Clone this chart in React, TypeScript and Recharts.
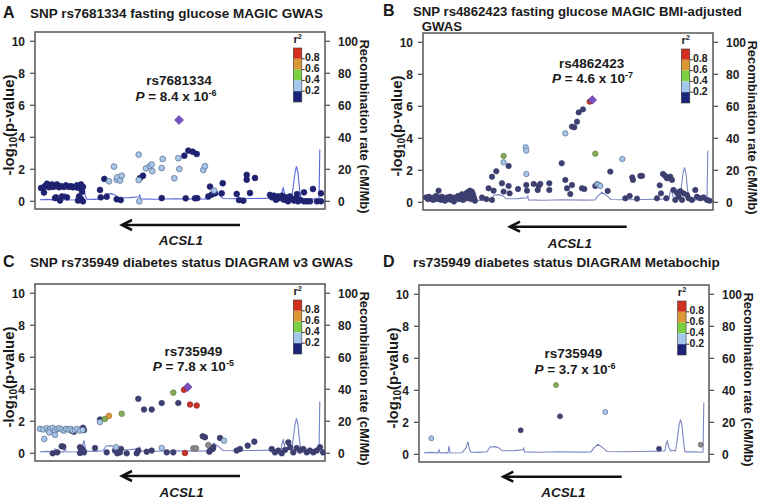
import React from 'react';
import { ComposedChart, Scatter, Line, XAxis, YAxis, ReferenceArea } from 'recharts';

const FONT = "'Liberation Sans', Arial, Helvetica, sans-serif";
const Y_MIN = -0.48;
const Y_MAX = 10.58;
const X_MAX = 290;
const leftTicks = [0, 2, 4, 6, 8, 10];
const rightTicks = [0, 20, 40, 60, 80, 100];
const r2LegendColors = ['#d22f1f', '#dc9834', '#7bd041', '#a4c8ec', '#1c2479'];
const r2LegendLabels = ['0.8', '0.6', '0.4', '0.2'];
const geneName = 'ACSL1';
const leftTitle = ['-log', '10', '(p-value)'];
const rightTitle = 'Recombination rate (cM/Mb)';

// class: 0 r2<0.2, 1 0.2-0.4, 2 0.4-0.6, 3 0.6-0.8, 4 >0.8, 5 no LD info, 9 index SNP
type Pt = [number, number, number];

// recombination rate (position, cM/Mb)
const recombination: [number, number][] = [
  [5, 1.0], [12, 1.2], [19, 0.9], [20, 2.7], [21, 0.9], [29, 0.9], [30, 5.2], [31, 0.8], [43, 1.0], [47, 4.0],
  [49, 7.9], [50.5, 3.0], [52, 1.3], [60, 1.2], [68, 1.6], [71, 4.6], [76, 4.8], [80, 4.0], [83, 2.2], [95, 2.3],
  [104, 2.8], [104.8, 3.8], [105.5, 1.5], [120, 1.3], [140, 1.6], [160, 1.4], [172, 1.5], [175, 4.0], [179, 6.3],
  [184, 4.0], [188, 1.8], [200, 1.6], [220, 1.8], [240, 2.0], [246, 2.2], [247, 6.0], [248.2, 8.3], [250, 4.0],
  [252, 2.0], [254, 2.5], [256.5, 2.0], [258, 8.0], [260, 18.0], [261.5, 21.9], [263, 18.0], [264.5, 8.0],
  [266, 1.5], [275, 1.5], [284, 1.3], [284.8, 32.3],
];

const snpsA: Pt[] = [
  [6, 0.83, 0], [8, 0.85, 0], [9, 0.55, 0], [10, 0.95, 0], [12, 1.1, 0], [14, 0.88, 0], [15, 1.0, 0], [17, 1.05, 0],
  [18, 0.9, 0], [20, 0.95, 0], [20, 0.2, 0], [21, 0.25, 0], [22, 1.05, 0], [24, 0.88, 0], [25, 0.05, 0], [26, 0.95, 0],
  [27, 0.3, 0], [29, 0.9, 0], [31, 1.0, 0], [32, 0.25, 0], [34, 0.9, 0], [36, 0.95, 0], [38, 0.88, 0], [40, 0.9, 0],
  [42, 1.0, 0], [43, 0.85, 0], [43, 0.05, 0], [44, 0.3, 0], [45, 0.95, 0], [46, 1.05, 0], [46, 0.15, 0], [47, 0.6, 0],
  [48, 0.0, 0], [48, 0.9, 0],
  [65, 0.71, 0], [65.7, 0.25, 0], [69.3, 1.4, 0], [71.7, 0.29, 0], [81.7, 0.13, 0], [85.7, 0.08, 0], [105, 1.45, 0],
  [108, 1.6, 0], [126.7, 0.2, 0], [149.3, 2.85, 0], [153.3, 3.17, 0], [157.7, 3.1, 0], [161.7, 2.96, 0], [150.7, 0.19, 0],
  [160, 0.19, 0], [162.3, 0.2, 0], [173.3, 0.3, 0], [175, 0.92, 0], [176.7, 0.42, 0], [180, 0.5, 0], [187.7, 1.13, 0],
  [186.7, 0.5, 0], [201.7, 0.46, 0], [204, 0.08, 0], [208.3, 0.04, 0], [211.7, 1.65, 0], [211.7, 1.35, 0], [220, 1.46, 0],
  [215, 0.52, 0],
  [235, 0.4, 0], [237, 0.25, 0], [239, 0.35, 0], [241, 0.1, 0], [243, 0.3, 0], [245, 0.2, 0], [247, 0.35, 0], [249, 0.1, 0],
  [251, 0.25, 0], [253, 0.0, 0], [255, 0.3, 0], [257, 0.15, 0], [259, 0.05, 0], [261, 0.2, 0], [262, 0.45, 0], [263, 0.0, 0],
  [265, 0.1, 0], [269, 0.56, 0], [269, 0.0, 0], [272, 0.0, 0], [275, 0.0, 0], [278, 0.77, 0], [282, 0.0, 0], [286, 0.5, 0],
  [286, 0.0, 0],
  [74, 1.25, 1], [79, 2.17, 1], [81.7, 1.35, 1], [82.3, 1.5, 1], [85, 1.3, 1], [86.7, 1.6, 1], [103.7, 2.92, 1],
  [103.7, 1.33, 1], [104.3, 0, 1], [111, 2.06, 1], [115, 2.2, 1], [116.7, 2.3, 1], [117.3, 1.88, 1], [126.7, 2.08, 1],
  [127.7, 2.65, 1], [139.3, 1.44, 1], [143.3, 2.69, 1], [144.3, 2.02, 1], [168.3, 1.96, 1], [170, 2.19, 1], [179, 0.67, 1],
  [144, 5.08, 9],
];

const snpsB: Pt[] = [
  [3, 0.3, 0], [5, 0.2, 0], [6, 0.35, 0], [8, 0.25, 0], [10, 0.15, 0], [11, 0.3, 0], [13, 0.4, 0], [14, 0.2, 0],
  [15.6, 0.73, 0], [16, 0.3, 0], [18, 0.15, 0], [19, 0.35, 0], [21, 0.25, 0], [22, 0.1, 0], [24, 0.3, 0], [25, 0.2, 0],
  [27, 0.35, 0], [28, 0.15, 0], [30, 0.25, 0], [31, 0.05, 0], [33, 0.3, 0], [35, 0.4, 0], [36, 0.2, 0], [38, 0.3, 0],
  [39, 0.5, 0], [40, 0.15, 0], [42, 0.35, 0], [43, 0.55, 0], [44, 0.25, 0], [45, 0.65, 0], [46, 0.4, 0], [47, 0.73, 0],
  [48, 0.2, 0], [49, 0.67, 0], [50, 0.5, 0], [51, 0.3, 0], [52, 0.1, 0], [59, 0.3, 0], [63.5, 0.2, 0], [69, 0.15, 0],
  [85.6, 2.27, 0], [73.3, 1.94, 0], [69, 1.6, 0], [79, 1.19, 0], [65.6, 0.875, 0], [70.6, 0.73, 0], [80.6, 0.67, 0],
  [85.6, 1.02, 0], [86.6, 0.56, 0], [95, 0.83, 0], [103.3, 1.08, 0], [104, 0.73, 0], [110.7, 1.15, 0], [115.7, 1.02, 0],
  [117.3, 1.15, 0], [126.3, 1.19, 0], [126.3, 0.77, 0], [114.7, 0.77, 0], [138.7, 2.44, 0], [142.3, 1.4, 0], [144, 0.875, 0],
  [149, 1.08, 0], [147.3, 0.52, 0], [159, 0.875, 0], [161.3, 0.83, 0], [172.3, 1.02, 0], [184.7, 0.71, 0], [187.3, 1.92, 0],
  [202.3, 0.25, 0], [206.7, 0.4, 0], [214, 0.23, 0], [209.3, 1.56, 0], [210, 1.4, 0], [217.3, 1.65, 0], [219, 1.65, 0],
  [236.7, 1.06, 0], [240, 1.77, 0], [242.3, 1.65, 0], [244, 1.5, 0], [247.3, 1.6, 0], [249, 1.4, 0], [238, 0.56, 0],
  [234, 0.25, 0], [243.3, 0.25, 0],
  [250.6, 0.77, 0], [254, 0.6, 0], [257.3, 0.7, 0], [260.6, 0.56, 0], [264, 0.46, 0], [255.6, 0.35, 0], [252.3, 0.15, 0],
  [259, 0.15, 0], [265.6, 0.25, 0], [269, 0.15, 0], [272.3, 0.77, 0], [274, 0.35, 0], [277.3, 0.25, 0], [280.6, 0.31, 0],
  [284, 0.15, 0], [286.6, 0.1, 0],
  [149, 4.73, 0], [151.3, 4.69, 0], [154, 5.04, 0], [155.7, 5.62, 0], [160, 5.81, 0],
  [80.6, 2.5, 1], [102.7, 3.44, 1], [103.3, 3.23, 1], [103.3, 1.77, 1], [142.3, 4.31, 1], [174, 1.15, 1], [175.5, 1.1, 1],
  [177.3, 1.02, 1], [199.3, 2.71, 1],
  [80.6, 2.9, 2], [172.3, 3.04, 2],
  [166.7, 6.29, 4],
  [169.3, 6.4, 9],
];

const snpsC: Pt[] = [
  [17.7, 0, 0], [22.3, 0.06, 0], [26.7, 0.44, 0], [28.3, 0.42, 0], [45, 0.02, 0], [47.7, 0.17, 0], [49, 0.06, 0],
  [46.7, 0.31, 0], [45, 0.38, 0], [60, 0.33, 0], [71.7, 0.06, 0], [80, 0.17, 0], [82.3, 0, 0], [86, 0.27, 0], [85, 0.06, 0],
  [91.7, 0, 0], [101.7, 0, 0], [103.3, 0.17, 0], [111.7, 0.1, 0], [116.7, 0.17, 0], [131.7, 0.06, 0], [138.3, 0.06, 0],
  [37, 1.4, 0], [39, 1.35, 0], [48, 1.6, 0], [49, 1.45, 0],
  [65, 2.11, 0], [103.3, 3.41, 0], [109, 2.74, 0], [116.7, 2.74, 0], [126.7, 3.14, 0], [143.3, 3.14, 0], [167.7, 1.07, 0],
  [170, 1.0, 0], [185, 0.96, 0], [219.3, 0.73, 0], [212.7, 0.48, 0], [205, 0.27, 0], [201.7, 0.17, 0], [175, 0.17, 0],
  [177.7, 0.27, 0], [174.3, 0.1, 0], [178.3, 0.38, 0],
  [236.7, 0.27, 0], [240, 0.06, 0], [243.3, 0.17, 0], [246.7, 0, 0], [250, 0.21, 0], [253.3, 0.69, 0], [255, 0.38, 0],
  [258.3, 0.06, 0], [261.7, 0.33, 0], [265, 0.17, 0], [268.3, 0.27, 0], [271.7, 0.06, 0], [275, 0.17, 0], [278.3, 0.06, 0],
  [281.7, 0.17, 0], [285, 0.38, 0], [288, 0.06, 0],
  [5, 1.53, 1], [8.3, 1.49, 1], [11.7, 1.57, 1], [13.3, 1.42, 1], [15, 1.53, 1], [17.7, 1.59, 1], [20, 1.42, 1],
  [22.3, 1.53, 1], [24.3, 1.57, 1], [26.7, 1.49, 1], [29, 1.42, 1], [31, 1.53, 1], [33.3, 1.49, 1], [35.7, 1.53, 1],
  [37.7, 1.42, 1], [40, 1.46, 1], [42.3, 1.53, 1], [45, 1.42, 1], [47.7, 1.46, 1], [9.3, 0.9, 1], [20, 1.15, 1],
  [14.3, 1.3, 1], [65, 1.95, 1], [81, 0.38, 1], [126.7, 0.33, 1], [189, 0.79, 1],
  [158.3, 0.31, 5], [161, 0.31, 5], [173.3, 0.52, 5],
  [70, 2.15, 2], [86.7, 2.47, 2], [138.3, 3.79, 2],
  [74, 2.34, 3],
  [149, 3.97, 4], [155, 3.05, 4], [161.7, 2.99, 4], [150, 0.02, 4],
  [152.7, 4.14, 9],
];

const snpsD: Pt[] = [
  [101.7, 1.5, 0], [141, 2.375, 0], [240, 0.35, 0],
  [12.3, 1.0, 1], [186.3, 2.65, 1],
  [137, 4.33, 2],
  [281.7, 0.6, 5],
];

const classFill = ['', '#a8c7e7', '#86ad5a', '#d89a3c', '#c8352b', '#8c8c8c'];
const classStroke = ['', '#55688f', '#5f7f3c', '#a8711f', '#8e221a', '#666666'];

type PanelCfg = {
  letter: string; letterX: number; titleX: number; titleY: number; title: string[]; title2X: number; titleGap: number; titleSize: number;
  fx: number; fy: number; snps: Pt[]; navy: string; lineColor: string; r: number;
  snp: string; pval: string; pexp: string; annX: number; annY1: number; pX: number; annY2: number;
  arrowX1: number; arrowX2: number; arrowY: number; geneX: number; geneY: number;
};

const panels: PanelCfg[] = [
  {
    letter: 'A', letterX: 3, titleX: 30, titleY: 18, title: ['SNP rs7681334 fasting glucose MAGIC GWAS'], title2X: 30, titleGap: 0, titleSize: 13.5,
    fx: 35, fy: 32, snps: snpsA, navy: '#1f2270', lineColor: '#5a66de', r: 2.9,
    snp: 'rs7681334', pval: '8.4', pexp: '-6', annX: 179, annY1: 85, pX: 176, annY2: 100.5,
    arrowX1: 240, arrowX2: 122, arrowY: 225, geneX: 181, geneY: 245,
  },
  {
    letter: 'B', letterX: 383, titleX: 413, titleY: 15.8, title: ['SNP rs4862423 fasting glucose MAGIC BMI-adjusted', 'GWAS'], title2X: 421.7, titleGap: 14.8, titleSize: 13.2,
    fx: 423, fy: 33, snps: snpsB, navy: '#3c3f6f', lineColor: '#7d88c2', r: 2.7,
    snp: 'rs4862423', pval: '4.6', pexp: '-7', annX: 591.7, annY1: 68.3, pX: 592.5, annY2: 82.7,
    arrowX1: 626.7, arrowX2: 510, arrowY: 226.7, geneX: 570, geneY: 247.5,
  },
  {
    letter: 'C', letterX: 3, titleX: 30, titleY: 266.7, title: ['SNP rs735949 diabetes status DIAGRAM v3 GWAS'], title2X: 30, titleGap: 0, titleSize: 13.5,
    fx: 35, fy: 284, snps: snpsC, navy: '#3c3f6f', lineColor: '#7583c6', r: 2.8,
    snp: 'rs735949', pval: '7.8', pexp: '-5', annX: 193.3, annY1: 355.5, pX: 193.3, annY2: 371,
    arrowX1: 240, arrowX2: 122, arrowY: 476, geneX: 181.7, geneY: 496.5,
  },
  {
    letter: 'D', letterX: 383, titleX: 413, titleY: 266.7, title: ['rs735949 diabetes status DIAGRAM Metabochip'], title2X: 413, titleGap: 0, titleSize: 13.5,
    fx: 419.3, fy: 285, snps: snpsD, navy: '#3c3f6f', lineColor: '#7d88c2', r: 2.5,
    snp: 'rs735949', pval: '3.7', pexp: '-6', annX: 573.3, annY1: 358, pX: 575, annY2: 373.5,
    arrowX1: 621.7, arrowX2: 503.3, arrowY: 476.7, geneX: 563.3, geneY: 497,
  },
];

const tickStyle = { fill: '#222', fontSize: 12, fontWeight: 700, fontFamily: FONT };

function ChartPanel({ cfg }: { cfg: PanelCfg }) {
  const pts = cfg.snps.map(([x, y, c]) => ({ x, y, c }));
  const rec = recombination.map(([x, r]) => ({ x, r }));
  const shape = (props: any) => {
    const { cx, cy, payload } = props;
    if (cx == null || cy == null) return <g />;
    const c = payload.c;
    if (c === 9) {
      const s = cfg.r + 1.6;
      return (
        <polygon
          points={`${cx},${cy - s} ${cx + s},${cy} ${cx},${cy + s} ${cx - s},${cy}`}
          fill="#7a4fc2"
          stroke="#55358f"
          strokeWidth={0.6}
        />
      );
    }
    const fill = c === 0 ? cfg.navy : classFill[c];
    const stroke = c === 0 ? cfg.navy : classStroke[c];
    return <circle cx={cx} cy={cy} r={cfg.r} fill={fill} stroke={stroke} strokeWidth={0.7} />;
  };
  return (
    <div style={{ position: 'absolute', left: cfg.fx - 35, top: cfg.fy - 32, width: 380, height: 250 }}>
      <ComposedChart width={380} height={250} margin={{ top: 32, right: 0, bottom: 41, left: 0 }}>
        <XAxis xAxisId="x" type="number" dataKey="x" domain={[0, X_MAX]} hide allowDataOverflow />
        <YAxis
          yAxisId="l"
          dataKey="y"
          type="number"
          orientation="left"
          width={35}
          domain={[Y_MIN, Y_MAX]}
          ticks={leftTicks}
          interval={0}
          allowDataOverflow
          axisLine={false}
          tickLine={{ stroke: '#555', strokeWidth: 1.3 }}
          tickSize={5}
          tickMargin={5}
          tick={tickStyle}
        />
        <YAxis
          yAxisId="r"
          dataKey="r"
          type="number"
          orientation="right"
          width={55}
          domain={[Y_MIN * 10, Y_MAX * 10]}
          ticks={rightTicks}
          interval={0}
          allowDataOverflow
          axisLine={false}
          tickLine={{ stroke: '#555', strokeWidth: 1.3 }}
          tickSize={5}
          tickMargin={8}
          tick={tickStyle}
        />
        <Line
          xAxisId="x"
          yAxisId="r"
          data={rec}
          dataKey="r"
          type="linear"
          dot={false}
          activeDot={false}
          stroke={cfg.lineColor}
          strokeWidth={1.1}
          isAnimationActive={false}
        />
        <Scatter xAxisId="x" yAxisId="l" data={pts} dataKey="y" shape={shape} isAnimationActive={false} />
        <ReferenceArea
          xAxisId="x"
          yAxisId="l"
          x1={0}
          x2={X_MAX}
          y1={Y_MIN}
          y2={Y_MAX}
          fill="none"
          fillOpacity={0}
          stroke="#555"
          strokeWidth={1.5}
          ifOverflow="visible"
        />
      </ComposedChart>
    </div>
  );
}

function Overlay() {
  const segH = 10.8;
  return (
    <svg width={760} height={499} style={{ position: 'absolute', left: 0, top: 0, pointerEvents: 'none' }} fontFamily={FONT}>
      {panels.map((p) => {
        const lx = p.fx + 258.3;
        const ly = p.fy + 16;
        const y = p.arrowY;
        return (
          <g key={p.letter} fill="#1a1a1a">
            <text x={p.letterX} y={p.titleY} fontSize={16} fontWeight={700}>{p.letter}</text>
            {p.title.map((t, i) => (
              <text key={i} x={i === 0 ? p.titleX : p.title2X} y={p.titleY + i * p.titleGap} fontSize={p.titleSize} fontWeight={700}>{t}</text>
            ))}
            <text
              transform={`translate(${p.fx - 21.5},${p.fy + 93}) rotate(-90)`}
              textAnchor="middle"
              fontSize={15}
              fontWeight={700}
            >
              {leftTitle[0]}
              <tspan fontSize={10} dy={3}>{leftTitle[1]}</tspan>
              <tspan dy={-3}>{leftTitle[2]}</tspan>
            </text>
            <text transform={`translate(${p.fx + 324.5},${p.fy + 94.5}) rotate(90)`} textAnchor="middle" fontSize={13} fontWeight={700}>
              {rightTitle}
            </text>
            {r2LegendColors.map((c, i) => (
              <rect key={c} x={lx} y={ly + i * segH} width={8.5} height={segH} fill={c} />
            ))}
            <rect x={lx} y={ly} width={8.5} height={segH * 5} fill="none" stroke="#3a3a3a" strokeWidth={0.6} />
            {r2LegendLabels.map((t, i) => (
              <g key={t}>
                <line x1={lx + 8.5} x2={lx + 11.5} y1={ly + (i + 1) * segH} y2={ly + (i + 1) * segH} stroke="#333" strokeWidth={1} />
                <text x={lx + 11.8} y={ly + (i + 1) * segH + 2.5} fontSize={10.5} fontWeight={700}>{t}</text>
              </g>
            ))}
            <text x={lx + 4.5} y={ly - 5} textAnchor="middle" fontSize={11} fontWeight={700}>
              r<tspan fontSize={7.5} dy={-4}>2</tspan>
            </text>
            <text x={p.annX} y={p.annY1} textAnchor="middle" fontSize={13.5} fontWeight={700}>{p.snp}</text>
            <text x={p.pX} y={p.annY2} textAnchor="middle" fontSize={13.5} fontWeight={700}>
              <tspan fontStyle="italic">P</tspan>
              <tspan>{` = ${p.pval} x 10`}</tspan>
              <tspan fontSize={9} dy={-5}>{p.pexp}</tspan>
            </text>
            <line x1={p.arrowX1} x2={p.arrowX2 + 1} y1={y} y2={y} stroke="#111" strokeWidth={2.6} />
            <polyline
              points={`${p.arrowX2 + 10},${y - 5} ${p.arrowX2},${y} ${p.arrowX2 + 10},${y + 5}`}
              fill="none"
              stroke="#111"
              strokeWidth={2.6}
            />
            <text x={p.geneX} y={p.geneY} textAnchor="middle" fontSize={13.5} fontWeight={700} fontStyle="italic">{geneName}</text>
          </g>
        );
      })}
    </svg>
  );
}

export default function App() {
  return (
    <div style={{ position: 'fixed', left: 0, top: 0, width: 760, height: 499, overflow: 'hidden', background: '#fff', fontFamily: FONT }}>
      {panels.map((p) => (
        <ChartPanel key={p.letter} cfg={p} />
      ))}
      <Overlay />
    </div>
  );
}
